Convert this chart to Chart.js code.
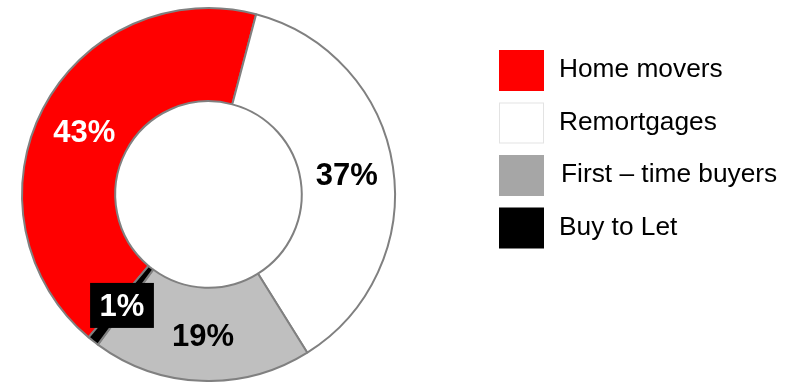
<!DOCTYPE html>
<html>
<head>
<meta charset="utf-8">
<script src="https://cdn.jsdelivr.net/npm/chart.js@4.4.1/dist/chart.umd.min.js"></script>
<style>
  html, body { margin: 0; padding: 0; background: #fff; }
  #wrap { position: relative; width: 789px; height: 382px; }
</style>
</head>
<body>
<div id="wrap"><canvas id="mixChart" width="789" height="382"></canvas></div>
<script>
const labels = ['Home movers', 'Remortgages', 'First \u2013 time buyers', 'Buy to Let'];
const shares = [43, 37, 19, 1];
const sliceColors = ['#ff0000', '#ffffff', '#bfbfbf', '#000000'];
const keyColors = ['#ff0000', '#ffffff', '#a6a6a6', '#000000'];
const labelColors = ['#ffffff', '#000000', '#000000', '#ffffff'];

const FONT = '"Liberation Sans", Arial, sans-serif';

// percentage labels at the middle of each ring segment
const sliceLabels = {
  id: 'sliceLabels',
  afterDatasetsDraw(chart) {
    const ctx = chart.ctx;
    const arcs = chart.getDatasetMeta(0).data;
    ctx.save();
    ctx.font = 'bold 31px ' + FONT;
    ctx.textAlign = 'center';
    ctx.textBaseline = 'middle';
    arcs.forEach((arc, i) => {
      const p = arc.tooltipPosition();
      const txt = shares[i] + '%';
      if (shares[i] < 5) {
        // small slice gets a black tag behind its label
        const w = ctx.measureText(txt).width + 19;
        ctx.fillStyle = '#000';
        ctx.fillRect(p.x - w / 2, p.y - 21.5, w, 45);
      }
      ctx.fillStyle = labelColors[i];
      ctx.fillText(txt, p.x, p.y + 3);
    });
    ctx.restore();
  }
};

// key on the right
const sideKey = {
  id: 'sideKey',
  afterDraw(chart) {
    const ctx = chart.ctx;
    const top = 50, step = 52.5;
    ctx.save();
    ctx.font = '26.3px ' + FONT;
    ctx.textBaseline = 'middle';
    ctx.textAlign = 'left';
    labels.forEach((lab, i) => {
      const y = top + i * step;
      ctx.fillStyle = keyColors[i];
      ctx.fillRect(499, y, 45, 41);
      if (keyColors[i] === '#ffffff') {
        ctx.strokeStyle = '#e3e3e3';
        ctx.lineWidth = 1;
        ctx.strokeRect(499.5, y + 0.5, 44, 40);
      }
      ctx.fillStyle = '#000';
      ctx.fillText(lab, i === 2 ? 561 : 559, y + 20);
    });
    ctx.restore();
  }
};

new Chart(document.getElementById('mixChart'), {
  type: 'doughnut',
  data: {
    labels,
    datasets: [{
      data: shares,
      backgroundColor: sliceColors,
      borderColor: '#808080',
      borderWidth: 2,
      hoverOffset: 0
    }]
  },
  options: {
    responsive: false,
    animation: false,
    rotation: 220,
    cutout: '50%',
    layout: { padding: { left: 20, top: 7, right: 392, bottom: 0 } },
    plugins: {
      legend: { display: false },
      tooltip: { enabled: false }
    }
  },
  plugins: [sliceLabels, sideKey]
});
</script>
</body>
</html>
